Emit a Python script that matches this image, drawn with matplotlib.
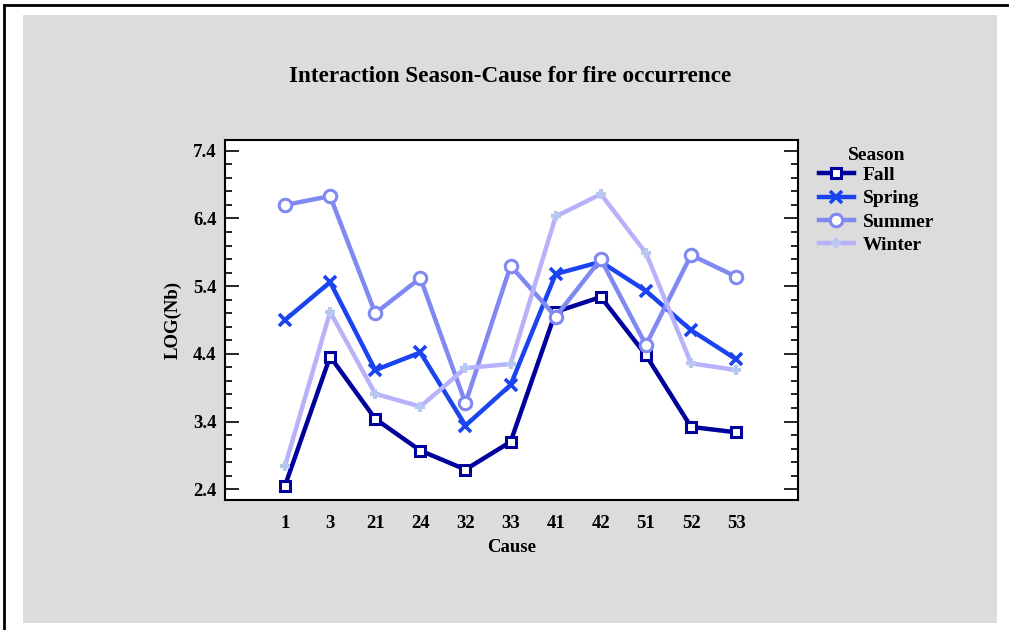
import numpy as np
import matplotlib
matplotlib.use('Agg')
import matplotlib.pyplot as plt
from matplotlib.patches import Rectangle
from matplotlib.lines import Line2D

plt.rcParams['font.family'] = ['Liberation Serif', 'DejaVu Serif']

causes = ['1', '3', '21', '24', '32', '33', '41', '42', '51', '52', '53']
fall = [2.45, 4.36, 3.44, 2.97, 2.69, 3.10, 5.02, 5.24, 4.38, 3.32, 3.24]
spring = [4.90, 5.46, 4.16, 4.42, 3.34, 3.94, 5.58, 5.76, 5.33, 4.75, 4.32]
summer = [6.60, 6.73, 5.00, 5.52, 3.67, 5.70, 4.95, 5.80, 4.53, 5.86, 5.54]
winter = [2.74, 5.02, 3.81, 3.62, 4.19, 4.25, 6.43, 6.76, 5.89, 4.26, 4.16]

W, H = 1009, 630
fig = plt.figure(figsize=(W / 100, H / 100), dpi=100)
fig.patch.set_facecolor('white')

# gray panel and outer frame
fig.patches.append(Rectangle((23 / W, 1 - 623 / H), (997 - 23) / W, (623 - 15) / H,
                             transform=fig.transFigure, facecolor='#dcdcdc',
                             edgecolor='none', zorder=-5))
fig.lines.append(Line2D([3.5 / W, 3.5 / W], [0, 1 - 4.5 / H], transform=fig.transFigure,
                        color='black', lw=2, zorder=-5))
fig.lines.append(Line2D([3.5 / W, 1], [1 - 4.5 / H, 1 - 4.5 / H], transform=fig.transFigure,
                        color='black', lw=2, zorder=-5))

ax = fig.add_axes([225 / W, 1 - 500 / H, (798 - 225) / W, (500 - 140) / H])
x = np.arange(len(causes))

series = [
    ('Fall', fall, '#00009c', 's', 7, 'white'),
    ('Spring', spring, '#1a44f0', 'x', 9, None),
    ('Summer', summer, '#8088f2', 'o', 9, 'white'),
    ('Winter', winter, '#b8b2fa', '+', 7, None),
]
handles = []
for name, vals, col, mk, ms, mfc in series:
    if name == 'Winter':
        h, = ax.plot(x, vals, color=col, lw=3.2, marker='+', ms=ms, mew=3,
                     mec='#b6c8f2', label=name)
    elif mk == 'x':
        h, = ax.plot(x, vals, color=col, lw=3.2, marker=mk, ms=ms, mew=2.6,
                     label=name)
    else:
        h, = ax.plot(x, vals, color=col, lw=3.2, marker=mk, ms=ms, mew=2.2,
                     mfc=mfc, mec=col, label=name)
    handles.append(h)

ax.set_xlim(-1.33, 11.37)
ax.set_ylim(2.24, 7.56)
ax.set_xticks(x)
ax.set_xticklabels(causes)
ax.set_yticks(np.arange(2.4, 7.5, 1.0))
ax.set_yticks(np.arange(2.4, 7.5, 0.2), minor=True)
ax.yaxis.set_major_formatter(matplotlib.ticker.FormatStrFormatter('%.1f'))
ax.tick_params(axis='x', length=0, pad=11, labelsize=13.5)
ax.tick_params(axis='y', which='major', direction='in', length=10, width=1.2,
               right=True, labelsize=13.5, pad=6)
ax.tick_params(axis='y', which='minor', direction='in', length=5, width=1.2, right=True)
for lbl in ax.get_xticklabels() + ax.get_yticklabels():
    lbl.set_fontweight('bold')
for s in ax.spines.values():
    s.set_linewidth(1.5)

ax.set_xlabel('Cause', fontsize=13.5, fontweight='bold', labelpad=5)
ax.set_ylabel('LOG(Nb)', fontsize=13.5, fontweight='bold', labelpad=8)

fig.text(510 / W, 1 - 77 / H, 'Interaction Season-Cause for fire occurrence',
         ha='center', va='center', fontsize=16.7, fontweight='bold')

leg = fig.legend(handles=handles, loc='upper left', bbox_to_anchor=(809 / W, 1 - 137 / H),
                 frameon=False, title='Season', handlelength=1.8, handletextpad=0.45,
                 labelspacing=0.29, borderpad=0, prop={'size': 14, 'weight': 'bold'},
                 title_fontproperties={'size': 14, 'weight': 'bold'})
leg._legend_box.align = 'center'
leg._legend_box.sep = 2

fig.savefig('out.png', dpi=100)
